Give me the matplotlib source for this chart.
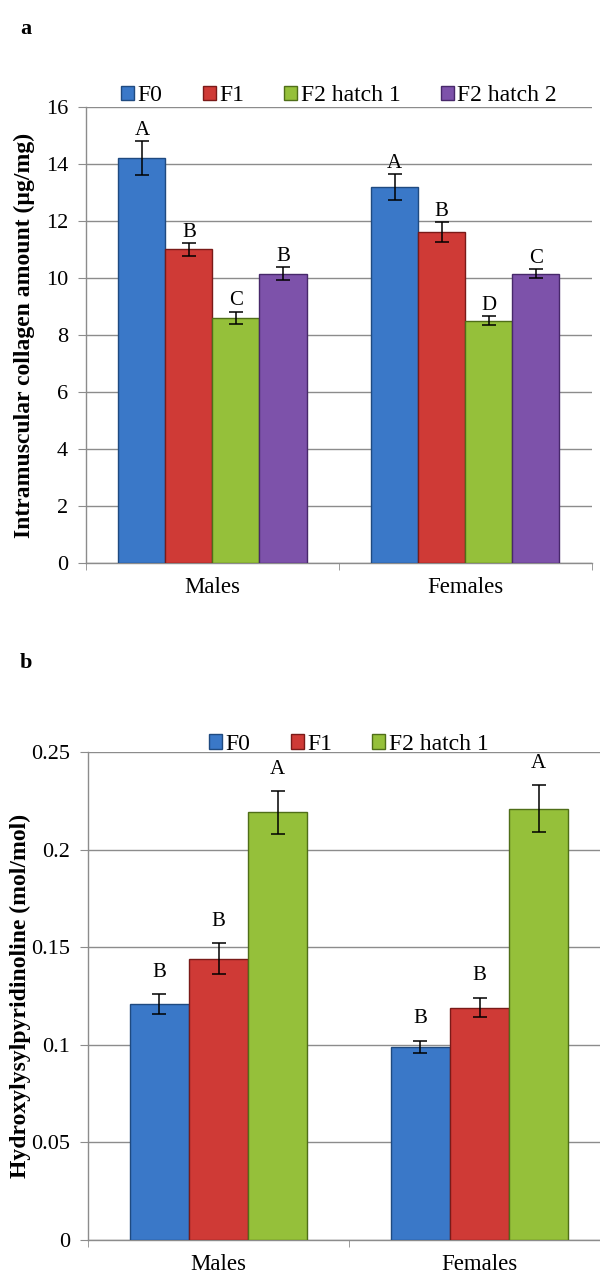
import numpy as np
import matplotlib
matplotlib.use("Agg")
import matplotlib.pyplot as plt
from matplotlib.patches import Patch

plt.rcParams['font.family'] = ['Liberation Serif', 'DejaVu Serif']

# panel a: intramuscular collagen
groups = ['Males', 'Females']
series_a = ['F0', 'F1', 'F2 hatch 1', 'F2 hatch 2']
collagen = [[14.2, 13.2], [11.0, 11.6], [8.6, 8.5], [10.15, 10.15]]
collagen_err = [[0.6, 0.45], [0.22, 0.35], [0.22, 0.15], [0.22, 0.15]]
collagen_letters = [['A', 'A'], ['B', 'B'], ['C', 'D'], ['B', 'C']]
ticks_a = [0, 2, 4, 6, 8, 10, 12, 14, 16]

# panel b: hydroxylysylpyridinoline
series_b = ['F0', 'F1', 'F2 hatch 1']
hp = [[0.121, 0.099], [0.144, 0.119], [0.219, 0.221]]
hp_err = [[0.005, 0.003], [0.008, 0.005], [0.011, 0.012]]
hp_letters = [['B', 'B'], ['B', 'B'], ['A', 'A']]
ticks_b = [0, 0.05, 0.1, 0.15, 0.2, 0.25]
tick_labels_b = ['0', '0.05', '0.1', '0.15', '0.2', '0.25']

colors = ['#3a78c8', '#cf3a36', '#95c03a', '#7d52aa']
edges = ['#1f4a80', '#7a1a18', '#4f6e18', '#47286a']
grid_c = '#8c8c8c'


def draw_panel(ax, series, vals, errs, letters, bar_w, yticks, ylim, ylabel, lab_off, leg_y, ylab_x):
    x = np.arange(len(groups))
    n = len(series)
    for i, name in enumerate(series):
        pos = x + (i - (n - 1) / 2) * bar_w
        ax.bar(pos, vals[i], width=bar_w, color=colors[i], edgecolor=edges[i],
               linewidth=1.0, label=name, zorder=3)
        ax.errorbar(pos, vals[i], yerr=errs[i], fmt='none', ecolor='black',
                    elinewidth=1.1, capsize=5, capthick=1.1, zorder=4)
        for p, v, e, t in zip(pos, vals[i], errs[i], letters[i]):
            ax.annotate(t, (p, v + e), xytext=(0, lab_off), textcoords='offset points',
                        ha='center', va='bottom', fontsize=15)
    ax.set_xlim(-0.5, 1.5)
    ax.set_ylim(*ylim)
    ax.set_yticks(yticks)
    ax.set_xticks(x)
    ax.set_xticklabels(groups, fontsize=16.5)
    ax.set_xticks([-0.5, 0.5, 1.5], minor=True)
    ax.tick_params(axis='x', which='major', length=0, pad=10)
    ax.tick_params(axis='x', which='minor', length=5, color=grid_c, direction='out')
    ax.tick_params(axis='y', length=6, color=grid_c, labelsize=16, pad=7)
    ax.yaxis.grid(True, color=grid_c, linewidth=1.0, zorder=0)
    ax.set_axisbelow(True)
    for s in ['top', 'right']:
        ax.spines[s].set_visible(False)
    for s in ['left', 'bottom']:
        ax.spines[s].set_color(grid_c)
        ax.spines[s].set_linewidth(1.0)
    ax.set_ylabel(ylabel, fontsize=17, fontweight='bold')
    ax.yaxis.set_label_coords(ylab_x, 0.5)
    handles = [Patch(facecolor=colors[i], edgecolor=edges[i]) for i in range(n)]
    ax.legend(handles, series, loc='lower center', bbox_to_anchor=(0.5, leg_y),
              ncol=n, frameon=False, fontsize=17, handlelength=0.55,
              handleheight=0.55, handletextpad=0.15, columnspacing=1.7,
              borderaxespad=0.1)


fig = plt.figure(figsize=(6, 12.75), dpi=100)

ax_a = fig.add_axes([0.1433, 0.5584, 0.843, 0.3577])
draw_panel(ax_a, series_a, collagen, collagen_err, collagen_letters, 0.186,
           ticks_a, (0, 16), 'Intramuscular collagen amount (µg/mg)', 1, 0.976, -0.1)

ax_b = fig.add_axes([0.1467, 0.0275, 0.87, 0.3827])
draw_panel(ax_b, series_b, hp, hp_err, hp_letters, 0.227,
           ticks_b, (0, 0.25), 'Hydroxylysylpyridinoline (mol/mol)', 9, 0.97, -0.11)
ax_b.set_yticklabels(tick_labels_b)

fig.text(0.033, 0.977, 'a', fontsize=16, fontweight='bold', va='center')
fig.text(0.033, 0.480, 'b', fontsize=16, fontweight='bold', va='center')

fig.savefig('out.png', dpi=100)
